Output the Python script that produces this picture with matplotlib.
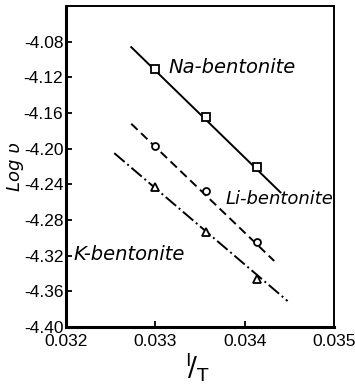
import matplotlib
matplotlib.use('Agg')
import matplotlib.pyplot as plt

# 读取的数据 (1/T, log v)
x_pts = [0.0330, 0.03357, 0.03414]
na_y = [-4.111, -4.164, -4.220]
li_y = [-4.197, -4.247, -4.305]
k_y = [-4.243, -4.294, -4.346]

# 拟合直线端点
na_line_x = [0.03273, 0.03440]
na_line_y = [-4.086, -4.249]
li_line_x = [0.03273, 0.03433]
li_line_y = [-4.172, -4.326]
k_line_x = [0.03254, 0.03448]
k_line_y = [-4.205, -4.371]

x_ticks = [0.032, 0.033, 0.034, 0.035]
x_ticklabels = ['0.032', '0.033', '0.034', '0.035']
y_ticks = [-4.08, -4.12, -4.16, -4.20, -4.24, -4.28, -4.32, -4.36, -4.40]
y_ticklabels = ['-4.08', '-4.12', '-4.16', '-4.20', '-4.24', '-4.28', '-4.32', '-4.36', '-4.40']

tick_font = ['Liberation Sans', 'DejaVu Sans']

fig = plt.figure(figsize=(3.55, 3.85), dpi=100)
ax = fig.add_axes([0.186, 0.151, 0.755, 0.833])

ax.plot(na_line_x, na_line_y, color='black', lw=1.4, linestyle='-')
ax.plot(li_line_x, li_line_y, color='black', lw=1.4, linestyle=(0, (4.5, 2.5)))
ax.plot(k_line_x, k_line_y, color='black', lw=1.4, linestyle=(0, (7, 1.8, 1, 1.8)))

ax.plot(x_pts, na_y, 's', ms=5.5, mfc='white', mec='black', mew=1.3)
ax.plot(x_pts, li_y, 'o', ms=5, mfc='white', mec='black', mew=1.3)
ax.plot(x_pts, k_y, '^', ms=5.5, mfc='white', mec='black', mew=1.3)

ax.text(0.033144, -4.109, 'Na-bentonite', fontsize=14, style='italic',
        va='center', ha='left')
ax.text(0.03379, -4.256, 'Li-bentonite', fontsize=13, style='italic',
        va='center', ha='left')
ax.text(0.03208, -4.319, 'K-bentonite', fontsize=14, style='italic',
        va='center', ha='left')

ax.set_xlim(0.032, 0.035)
ax.set_ylim(-4.40, -4.04)
ax.set_xticks(x_ticks)
ax.set_xticklabels(x_ticklabels, family=tick_font, fontsize=12.5)
ax.set_yticks(y_ticks)
ax.set_yticklabels(y_ticklabels, family=tick_font, fontsize=12.5)
ax.tick_params(direction='in', length=4, width=1.3)
ax.tick_params(axis='y', pad=2)
ax.tick_params(axis='x', pad=5)

for side in ['left', 'bottom']:
    ax.spines[side].set_linewidth(2.2)
for side in ['top', 'right']:
    ax.spines[side].set_linewidth(1.4)

ax.set_ylabel('Log ʋ', fontsize=13, style='italic', labelpad=0)
fig.text(0.555, 0.048, r'$^{\mathregular{I}}\!/_{\mathregular{T}}$', fontsize=19,
         ha='center', va='center')

plt.savefig('out.png', dpi=100)
